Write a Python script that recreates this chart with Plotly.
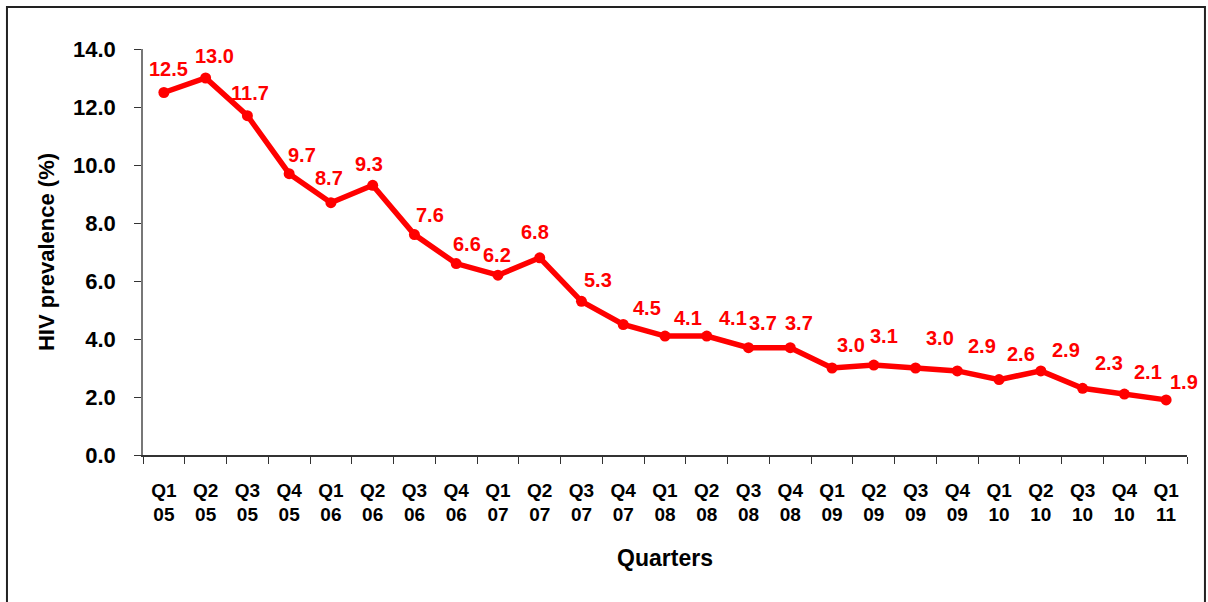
import plotly.graph_objects as go

quarters = ["Q1<br>05", "Q2<br>05", "Q3<br>05", "Q4<br>05",
            "Q1<br>06", "Q2<br>06", "Q3<br>06", "Q4<br>06",
            "Q1<br>07", "Q2<br>07", "Q3<br>07", "Q4<br>07",
            "Q1<br>08", "Q2<br>08", "Q3<br>08", "Q4<br>08",
            "Q1<br>09", "Q2<br>09", "Q3<br>09", "Q4<br>09",
            "Q1<br>10", "Q2<br>10", "Q3<br>10", "Q4<br>10",
            "Q1<br>11"]
prevalence = [12.5, 13.0, 11.7, 9.7, 8.7, 9.3, 7.6, 6.6, 6.2, 6.8, 5.3, 4.5,
              4.1, 4.1, 3.7, 3.7, 3.0, 3.1, 3.0, 2.9, 2.6, 2.9, 2.3, 2.1, 1.9]
y_ticks = [0, 2, 4, 6, 8, 10, 12, 14]

# data-label placement offsets (pixels, right / up from each point), as in the original
label_dx = [5, 9, 3, 13, -2, -4, 16, 11, -1, -5, 17, 24,
            23, 26, 14, 9, 19, 10, 24, 25, 22, 25, 26, 24, 18]
label_dy = [24, 22, 23, 19, 25, 21, 20, 20, 20, 26, 21, 17,
            18, 18, 25, 25, 23, 29, 30, 25, 26, 21, 25, 22, 18]

FONT = "Liberation Sans, Arial, sans-serif"
RED = "#FF0000"

fig = go.Figure()
fig.add_trace(go.Scatter(
    x=quarters, y=prevalence,
    mode="lines+markers",
    line=dict(color=RED, width=5.5),
    marker=dict(color=RED, size=11),
    cliponaxis=False,
    showlegend=False,
))

for q, v, dx, dy in zip(quarters, prevalence, label_dx, label_dy):
    fig.add_annotation(
        x=q, y=v, text=f"{v:.1f}", showarrow=False,
        xanchor="center", yanchor="middle", xshift=dx, yshift=dy,
        font=dict(family=FONT, size=20, color=RED, weight="bold"),
    )

fig.update_layout(
    width=1208, height=602,
    margin=dict(l=143, r=21, t=49, b=147),
    paper_bgcolor="white", plot_bgcolor="white",
    font=dict(family=FONT, color="black"),
    xaxis=dict(
        type="category",
        range=[-0.5, len(quarters) - 0.5],
        tickson="boundaries",
        ticks="outside", ticklen=7, tickcolor="#333",
        showline=True, linecolor="#333", linewidth=1.5,
        showgrid=False,
        tickfont=dict(family=FONT, size=19, color="black", weight="bold"),
        ticklabelstandoff=17,
        title=dict(text="Quarters", font=dict(family=FONT, size=23, color="black", weight="bold"), standoff=26),
    ),
    yaxis=dict(
        range=[0, 14],
        tickvals=y_ticks,
        tickformat=".1f",
        ticks="outside", ticklen=7, tickcolor="#333",
        showline=True, linecolor="#777", linewidth=1.5,
        showgrid=False, zeroline=False,
        tickfont=dict(family=FONT, size=22, color="black", weight="bold"),
        ticklabelstandoff=14,
        title=dict(text="HIV prevalence (%)", font=dict(family=FONT, size=22, color="black", weight="bold"), standoff=12),
    ),
    shapes=[dict(type="rect", xref="paper", yref="paper",
                 x0=-0.1303, x1=1.0172, y0=-0.5, y1=1.1034,
                 line=dict(color="#222", width=2), fillcolor="rgba(0,0,0,0)", layer="above")],
)

fig.write_html("out.html", config={"displayModeBar": False},
               post_script="document.body.style.margin='0';")
